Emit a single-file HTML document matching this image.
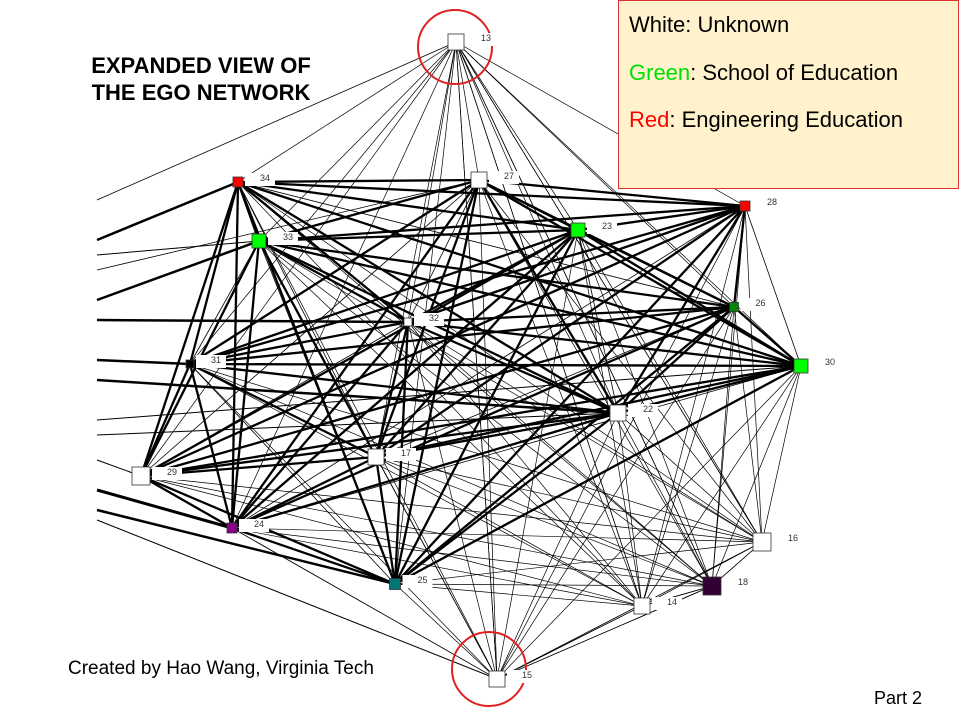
<!DOCTYPE html>
<html><head><meta charset="utf-8">
<style>
html,body{margin:0;padding:0;background:#fff;}
body{width:960px;height:720px;position:relative;overflow:hidden;font-family:"Liberation Sans",sans-serif;}
svg{position:absolute;left:0;top:0;}
.t{position:absolute;white-space:nowrap;}
</style></head><body>
<svg id="s" width="960" height="720" xmlns="http://www.w3.org/2000/svg"></svg>
<div class="t" style="left:618px;top:0;width:341px;height:189px;background:#fff2cc;border:1px solid #e03030;box-sizing:border-box;"></div>
<div class="t" style="left:629px;top:12px;font-size:22px;line-height:26px;">White: Unknown</div>
<div class="t" style="left:629px;top:60px;font-size:22px;line-height:26px;"><span style="color:#00e000">Green</span>: School of Education</div>
<div class="t" style="left:629px;top:107px;font-size:22px;line-height:26px;"><span style="color:#ff0000">Red</span>: Engineering Education</div>
<div class="t" style="left:80px;top:52px;width:242px;text-align:center;font-size:22px;font-weight:bold;line-height:27px;">EXPANDED VIEW OF<br>THE EGO NETWORK</div>
<div class="t" style="left:68px;top:658px;font-size:19px;">Created by Hao Wang, Virginia Tech</div>
<div class="t" style="left:874px;top:688px;font-size:18px;">Part 2</div>
<script>
var N={
13:[456,42,16,'#fff'],27:[479,180,16,'#fff'],34:[238,182,10,'#f00'],28:[745,206,10,'#f00'],
33:[259,241,14,'#0f0'],23:[578,230,14,'#0f0'],26:[734,307,9,'#080'],32:[408,322,8,'#fff'],
30:[801,366,14,'#0f0'],31:[190,364,8,'#000'],22:[618,413,16,'#fff'],17:[376,457,16,'#fff'],
29:[141,476,18,'#fff'],24:[232,528,10,'#808'],16:[762,542,18,'#fff'],18:[712,586,18,'#303'],
25:[395,584,11,'#077'],14:[642,606,16,'#fff'],15:[497,679,16,'#fff']};
var s=document.getElementById('s'),ns='http://www.w3.org/2000/svg';
function el(t,a){var e=document.createElementNS(ns,t);for(var k in a)e.setAttribute(k,a[k]);s.appendChild(e);return e;}
function ln(a,b,w){el('line',{x1:a[0],y1:a[1],x2:b[0],y2:b[1],stroke:'#000','stroke-width':w});}
var core=[34,27,28,33,23,26,32,30,31,22,17,29,24,25];
var thin=[13,15,16,18,14];
var all=Object.keys(N);
thin.forEach(function(a){all.forEach(function(b){if(+b!=a)ln(N[a],N[b],0.7);});});
var L=[[240,34,2.5],[255,33,1],[300,33,2.5],[320,32,2.5],[360,31,2.5],[380,22,2.5],[420,30,1],[435,22,1],[460,29,1],[490,24,3],[510,25,2.5],[520,15,1],[200,13,0.8],[270,27,0.8]];
L.forEach(function(l){ln([97,l[0]],N[l[1]],l[2]);});
for(var i=0;i<core.length;i++)for(var j=i+1;j<core.length;j++){
 var w=((i*7+j*3)%5==0)?0.8:2.3; ln(N[core[i]],N[core[j]],w);}
el('circle',{cx:455,cy:47,r:37,fill:'none',stroke:'#e02020','stroke-width':2});
el('circle',{cx:489,cy:669,r:37,fill:'none',stroke:'#e02020','stroke-width':2});
for(var k in N){var n=N[k],h=n[2]/2;
 el('rect',{x:n[0]+h+2,y:n[1]-9,width:30,height:13,fill:'#fff'});
 el('rect',{x:n[0]-h,y:n[1]-h,width:n[2],height:n[2],fill:n[3],stroke:'#333','stroke-width':0.8});
 var t=el('text',{x:n[0]+h+17,y:n[1]-1,'font-size':9,'font-family':'Liberation Sans, sans-serif',fill:'#333'});t.textContent=k;}
</script>
</body></html>
